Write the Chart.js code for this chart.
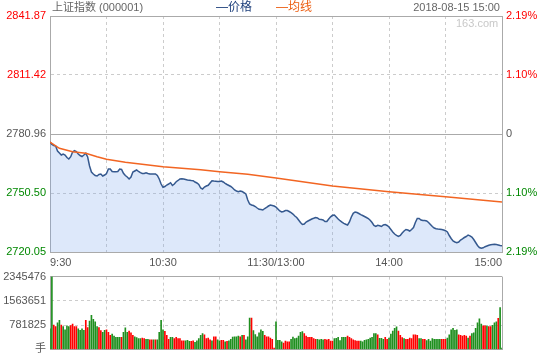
<!DOCTYPE html>
<html>
<head>
<meta charset="utf-8">
<script src="https://cdn.jsdelivr.net/npm/chart.js@4.4.1/dist/chart.umd.min.js"></script>
<style>
    html, body { margin: 0; padding: 0; background: #fff; }
    body { width: 540px; height: 360px; position: relative; overflow: hidden;
           font: 11px Arial, "Liberation Sans", "Noto Sans CJK SC", sans-serif; line-height: 15px; }
    canvas { position: absolute; left: 0; }
    .txt { position: absolute; top: 0; white-space: nowrap; }
</style>
</head>
<body>
<canvas id="grafico-prezzo" width="540" height="268" style="top:0"></canvas>
<canvas id="grafico-volume" width="540" height="94" style="top:266px"></canvas>
<div class="txt" style="left:52px;color:#666">上证指数 (000001)</div>
<div class="txt" style="left:216px;color:#1d3f7b;font-size:12px">—价格</div>
<div class="txt" style="left:276px;color:#ec5e12;font-size:12px">—均线</div>
<div class="txt" style="right:40px;color:#666">2018-08-15 15:00</div>
<div class="txt" style="left:456px;top:16px;color:#c8c8c8">163.com</div>
<script>
var prevClose = 2780.96;
var priceTicks = [2720.05, 2750.50, 2780.96, 2811.42, 2841.87];
var volTicks = [0, 781825, 1563651, 2345476];
var gridMinutes = [0, 30, 60, 90, 120, 150, 180, 210, 240];
var timeMinutes = [0, 60, 120, 180, 240];
var timeLabels = ['9:30', '10:30', '11:30/13:00', '14:00', '15:00'];

// one value per minute, 9:30 -> 15:00
var prices = [
    2776.83, 2775.54, 2775.02, 2774.76, 2772.18, 2771.15, 2770.12, 2770.64, 2770.12, 2768.83,
    2768.05, 2769.24, 2771.67, 2772.34, 2771.93, 2770.64, 2769.86, 2769.34, 2770.12, 2771.00,
    2769.09, 2764.44, 2761.34, 2760.31, 2759.54, 2759.28, 2760.05, 2760.31, 2759.28, 2759.79,
    2760.57, 2762.89, 2762.89, 2761.60, 2761.50, 2761.50, 2761.60, 2762.89, 2762.63, 2760.67,
    2759.54, 2758.76, 2757.73, 2758.76, 2761.34, 2761.86, 2762.38, 2761.60, 2760.98, 2760.57,
    2760.57, 2760.98, 2760.57, 2760.31, 2760.31, 2760.31, 2760.31, 2759.54, 2757.73, 2755.15,
    2753.45, 2753.86, 2754.63, 2755.15, 2755.82, 2754.37, 2755.15, 2756.34, 2756.96, 2757.73,
    2757.88, 2757.73, 2757.47, 2757.21, 2757.11, 2756.96, 2756.85, 2756.18, 2755.67, 2754.89,
    2753.08, 2752.57, 2753.60, 2754.12, 2754.48, 2755.67, 2756.85, 2756.70, 2756.59, 2756.44,
    2756.44, 2756.70, 2756.18, 2755.51, 2754.89, 2754.37, 2753.86, 2753.08, 2752.05, 2751.54,
    2751.17, 2751.54, 2751.28, 2750.66, 2749.99, 2746.89, 2744.83, 2744.31, 2744.05, 2743.53,
    2742.76, 2742.09, 2741.99, 2741.73, 2742.50, 2743.12, 2743.79, 2744.31, 2744.05, 2743.79,
    2743.28, 2742.24, 2741.21, 2740.70, 2740.95, 2741.47, 2741.47, 2740.95, 2740.33, 2739.66,
    2738.63, 2737.86, 2736.57, 2735.28, 2734.24, 2734.50, 2735.53, 2736.05, 2736.57, 2737.08,
    2737.44, 2737.86, 2737.60, 2736.93, 2736.82, 2736.57, 2735.79, 2735.79, 2737.08, 2738.22,
    2738.99, 2739.15, 2738.11, 2737.08, 2736.20, 2735.53, 2734.86, 2734.40, 2733.98, 2735.53,
    2738.11, 2740.02, 2740.70, 2740.44, 2739.92, 2739.30, 2738.89, 2738.37, 2737.86, 2737.34,
    2736.41, 2735.28, 2733.73, 2733.21, 2733.83, 2733.57, 2733.21, 2733.98, 2734.24, 2733.73,
    2732.95, 2731.66, 2730.37, 2729.34, 2728.67, 2728.05, 2728.56, 2729.86, 2730.89, 2731.66,
    2731.40, 2730.89, 2731.66, 2732.69, 2735.28, 2737.34, 2737.34, 2736.57, 2736.31, 2736.31,
    2736.05, 2735.28, 2734.24, 2733.21, 2732.44, 2732.08, 2731.92, 2731.82, 2731.66, 2731.40,
    2731.04, 2730.37, 2728.56, 2727.02, 2725.73, 2725.21, 2724.85, 2725.21, 2726.24, 2726.86,
    2727.53, 2728.05, 2728.82, 2728.41, 2727.79, 2726.50, 2724.95, 2723.40, 2722.37, 2721.96,
    2722.22, 2722.78, 2723.14, 2723.51, 2723.76, 2723.92, 2724.02, 2723.92, 2723.66, 2723.40,
    2723.26
];

var avgMinutes = [0, 5, 12, 19, 25, 30, 40, 60, 80, 90, 105, 120, 150, 180, 210, 240];
var avgPrices = [2776.83, 2773.58, 2771.82, 2771.00, 2769.24, 2767.90, 2766.35, 2764.08,
                 2762.48, 2761.50, 2760.16, 2758.25, 2754.12, 2751.17, 2748.54, 2745.86];

var volumes = [
    664000, 2345476, 787000, 736000, 858000, 940000, 787000, 736000, 634000, 756000,
    736000, 767000, 818000, 736000, 736000, 664000, 613000, 664000, 613000, 940000,
    705000, 910000, 1094000, 971000, 889000, 736000, 705000, 603000, 552000, 613000,
    634000, 552000, 450000, 491000, 429000, 388000, 388000, 388000, 388000,
    552000, 695000, 552000, 593000, 531000, 450000, 409000, 378000, 347000, 347000,
    368000, 347000, 327000, 327000, 307000, 307000, 307000, 307000, 307000, 552000,
    940000, 634000, 583000, 450000, 327000, 388000, 388000, 347000, 388000, 347000,
    347000, 276000, 276000, 276000, 296000, 256000, 256000, 276000, 225000, 276000,
    347000, 450000, 511000, 470000, 347000, 368000, 307000, 276000, 409000, 409000,
    307000, 276000, 296000, 296000, 245000, 256000, 276000, 327000, 399000, 409000,
    409000, 429000, 409000, 450000, 450000, 307000, 409000, 1012000, 1012000, 603000,
    480000, 409000, 531000, 634000, 583000, 450000, 409000, 409000, 368000,
    327000, 41000, 889000, 296000, 296000, 245000, 204000, 266000, 245000, 245000,
    327000, 399000, 347000, 368000, 429000, 552000, 572000, 511000, 429000, 388000,
    388000, 388000, 347000, 327000, 327000, 307000, 327000, 307000, 327000, 307000,
    327000, 266000, 266000, 347000, 358000, 388000, 286000, 388000, 388000, 388000,
    429000, 388000, 347000, 307000, 286000, 266000, 266000, 266000, 245000, 296000,
    307000, 327000, 368000, 388000, 511000, 511000, 470000, 358000, 358000, 327000,
    388000, 327000, 368000, 491000, 593000, 675000, 726000, 593000, 450000, 378000,
    347000, 327000, 327000, 368000, 347000, 470000, 470000, 450000, 347000, 347000,
    327000, 327000, 286000, 327000, 266000, 347000, 327000, 327000, 327000, 327000,
    327000, 327000, 327000, 368000, 470000, 634000, 675000, 613000, 634000, 470000,
    450000, 429000, 450000, 429000, 368000, 429000, 511000, 531000, 675000, 858000,
    981000, 818000, 756000, 756000, 756000, 736000, 736000, 777000, 858000, 889000,
    1002000, 1349000, 41000
];

// R = minute closed up, G = minute closed down
var volDir = [
    'GGRRGGRGGG', 'GRRRRGGGGR', 'RGGGGGRRGG', 'RRRGGG', 'GGR', 'GGGRRRGGGG', 'RRGGRRGRGG',
    'GGRRRGGRRR', 'RRRGGGRRGG', 'GGGRRRRGRR', 'GGRRGRGGGG', 'GGRGRGGGRG', 'GGGGGRRRR',
    'RRGGGGRRRR', 'GGGGGGGRRR', 'RRRRGGGGRR', 'RRRGGGGGGG', 'RRRRRRRGGG', 'GGGGGGRGGG',
    'RRGGGGGRRR', 'GRRRRRRRGG', 'RRGGGGGGGG', 'RRRGGGGGGR', 'RRRRGRGGGG', 'GGRRGRRGGG', 'RGG'
].join('').split('');

var rosso = '#f00';
var verde = '#080';
var grigio = '#555';

Chart.defaults.font.family = 'Arial, "Liberation Sans", "Noto Sans CJK SC", sans-serif';
Chart.defaults.font.size = 11;

function coloreLivello (v) {
    if (Math.abs(v - prevClose) < 0.001) return grigio;
    return v > prevClose ? rosso : verde;
}

function etichettaTempo (v) {
    var k = timeMinutes.indexOf(v);
    return k >= 0 ? timeLabels[k] : '';
}

function tratteggio (solidi) {
    return function (c) {
        if (!c.tick) return [];
        for (var i = 0; i < solidi.length; i++) {
            if (Math.abs(c.tick.value - solidi[i]) < 0.001) return [];
        }
        return [3, 3];
    };
}

function assePrezzo (pos, larghezza, formato) {
    return {
        position: pos,
        min: priceTicks[0],
        max: priceTicks[priceTicks.length - 1],
        afterBuildTicks: function (s) { s.ticks = priceTicks.map(function (v) { return {value: v}; }); },
        afterFit: function (s) { s.width = larghezza; },
        ticks: {padding: 4, color: function (c) { return coloreLivello(c.tick.value); }, callback: formato},
        grid: {
            display: pos === 'left',
            drawTicks: false,
            color: function (c) {
                var v = c.tick ? c.tick.value : 0;
                return (Math.abs(v - prevClose) < 0.001 || v === priceTicks[4]) ? '#aaa' : '#ccc';
            }
        },
        border: {color: '#aaa', dash: tratteggio([prevClose, priceTicks[4]])}
    };
}

function asseTempo (conEtichette) {
    return {
        type: 'linear',
        min: 0,
        max: 240,
        offset: false,
        afterBuildTicks: function (s) { s.ticks = gridMinutes.map(function (v) { return {value: v}; }); },
        afterFit: function (s) { s.height = conEtichette ? 16 : 0; },
        ticks: {display: conEtichette, align: 'inner', maxRotation: 0, autoSkip: false, padding: 4,
                color: grigio, callback: etichettaTempo},
        grid: {offset: false, drawTicks: false, color: function (c) { return (c.tick && c.tick.value === 240) ? '#aaa' : '#ccc'; }},
        border: {color: '#aaa', dash: tratteggio([0, 240])}
    };
}

new Chart($id('grafico-prezzo'), {
    type: 'line',
    data: {
        datasets: [{
            label: '均线',
            data: avgMinutes.map(function (m, k) { return {x: m, y: avgPrices[k]}; }),
            borderColor: '#f26522',
            borderWidth: 1.5,
            pointRadius: 0,
            fill: false
        }, {
            label: '价格',
            data: prices.map(function (p, i) { return {x: i, y: p}; }),
            borderColor: '#35598f',
            backgroundColor: 'rgba(120,165,235,0.25)',
            borderWidth: 1.5,
            pointRadius: 0,
            fill: 'start'
        }]
    },
    options: {
        responsive: false,
        animation: false,
        events: [],
        layout: {padding: {top: 16, left: 0, right: 0, bottom: 0}},
        plugins: {legend: {display: false}, tooltip: {enabled: false}},
        scales: {
            x: asseTempo(true),
            y: assePrezzo('left', 50, function (v) { return v.toFixed(2); }),
            y2: assePrezzo('right', 38, function (v) {
                var p = (v - prevClose) / prevClose * 100;
                return Math.abs(p) < 0.001 ? '0' : Math.abs(p).toFixed(2) + '%';
            })
        }
    }
});

new Chart($id('grafico-volume'), {
    type: 'bar',
    data: {
        datasets: [{
            data: volumes.map(function (v, i) { return {x: i, y: v}; }),
            backgroundColor: volDir.map(function (d) { return d === 'R' ? rosso : '#1f8f1f'; }),
            barThickness: 1
        }]
    },
    options: {
        responsive: false,
        animation: false,
        events: [],
        layout: {padding: {top: 8, left: 0, right: 38, bottom: 9}},
        plugins: {legend: {display: false}, tooltip: {enabled: false}},
        scales: {
            x: asseTempo(false),
            y: {
                min: 0,
                max: volTicks[volTicks.length - 1],
                afterBuildTicks: function (s) { s.ticks = volTicks.map(function (v) { return {value: v}; }); },
                afterFit: function (s) { s.width = 50; },
                ticks: {padding: 4, color: grigio, callback: function (v) { return v === 0 ? '手' : String(v); }},
                grid: {drawTicks: false, color: function (c) { return (c.tick && c.tick.value === volTicks[3]) ? '#aaa' : '#ccc'; }},
                border: {color: '#aaa', dash: tratteggio([0, volTicks[3]])}
            }
        }
    }
});

function $id (id) {
    return document.getElementById(id);
}
</script>
</body>
</html>
